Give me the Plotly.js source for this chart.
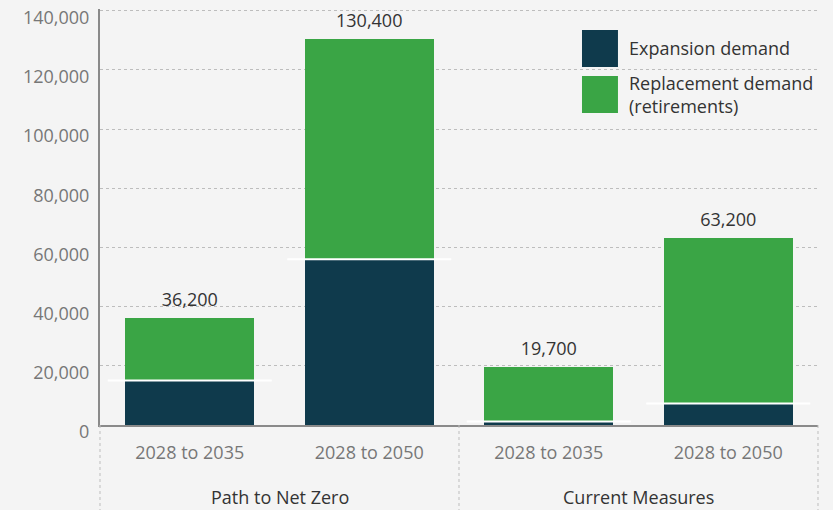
<!DOCTYPE html>
<html>
<head>
<meta charset="utf-8">
<script src="https://cdn.plot.ly/plotly-3.0.1.min.js"></script>
<style>html,body{margin:0;padding:0;background:#f4f4f4;}#chart{width:833px;height:510px;}</style>
</head>
<body>
<div id="chart"></div>
<script>
// Data
var groups = ["Path to Net Zero", "Path to Net Zero", "Current Measures", "Current Measures"];
var periods = ["2028 to 2035", "2028 to 2050", "2028 to 2035", "2028 to 2050"];
var expansion = [15000, 56000, 1200, 7300];
var replacement = [21200, 74400, 18500, 55900];
var totals = [36200, 130400, 19700, 63200];
var seriesNames = ["Expansion demand", "Replacement demand<br>(retirements)"];
var yTicks = [0, 20000, 40000, 60000, 80000, 100000, 120000, 140000];

var darkColor = "#0f3a4c";
var greenColor = "#3aa545";
var font = "Open Sans, Liberation Sans, sans-serif";
var fs = 18;

// unique category keys (group + period); ticks show the period only
var xKeys = groups.map(function(g, i){ return g + " | " + periods[i]; });
var n = xKeys.length;

// group labels centred under their categories
var groupNames = [];
groups.forEach(function(g){ if (groupNames.indexOf(g) < 0) groupNames.push(g); });
var groupAnn = groupNames.map(function(g){
  var idx = [];
  groups.forEach(function(gg, i){ if (gg === g) idx.push(i); });
  var mid = idx.reduce(function(a, b){ return a + b; }, 0) / idx.length;
  return {xref: "paper", yref: "paper", x: (mid + 0.5) / n, y: -0.172, xanchor: "center", yanchor: "middle",
          showarrow: false, text: g, font: {family: font, size: fs, color: "#333333"}};
});
var dividerShapes = [];
for (var k = 0; k <= n; k++) {
  if (k === 0 || k === n || groups[k] !== groups[k - 1]) {
    dividerShapes.push({type: "line", xref: "paper", yref: "paper", x0: k / n, x1: k / n, y0: 0, y1: -0.21,
                        line: {color: "#bdbdbd", width: 1, dash: "dot"}});
  }
}

var traces = [
  {type: "bar", x: xKeys, y: expansion, name: seriesNames[0], marker: {color: darkColor}, hoverinfo: "skip"},
  {type: "bar", x: xKeys, y: replacement, name: seriesNames[1], marker: {color: greenColor}, hoverinfo: "skip"},
  {type: "scatter", mode: "markers", x: xKeys, y: expansion, marker: {size: 1, opacity: 0},
   error_y: {type: "data", array: expansion.map(function(){return 0;}), visible: true, width: 82, thickness: 2, color: "#ffffff"},
   showlegend: false, hoverinfo: "skip", cliponaxis: false},
  {type: "scatter", mode: "markers+text", x: xKeys, y: totals, marker: {size: 10, opacity: 0},
   text: totals.map(function(v){return v.toLocaleString("en-US");}),
   textposition: "top center", textfont: {family: font, size: fs, color: "#333333"},
   showlegend: false, hoverinfo: "skip", cliponaxis: false}
];

var layout = {
  width: 833, height: 510,
  margin: {l: 100, r: 15, t: 9, b: 85},
  paper_bgcolor: "#f4f4f4", plot_bgcolor: "#f4f4f4",
  barmode: "stack", bargap: 0.28,
  showlegend: false,
  font: {family: font, size: fs, color: "#777777"},
  xaxis: {
    type: "category", categoryorder: "array", categoryarray: xKeys,
    tickmode: "array", tickvals: xKeys, ticktext: periods,
    showline: true, linecolor: "#8a8a8a", linewidth: 2,
    tickfont: {family: font, size: fs, color: "#777777"},
    ticks: "outside", ticklen: 10, tickcolor: "rgba(0,0,0,0)", showgrid: false
  },
  yaxis: {
    range: [0, 140600], tickmode: "array", tickvals: yTicks,
    ticktext: yTicks.map(function(v){return v.toLocaleString("en-US");}),
    ticklabeloverflow: "allow", ticklabelshift: 7,
    showgrid: true, gridcolor: "#bdbdbd", griddash: "dot", gridwidth: 1,
    showline: true, linecolor: "#8a8a8a", linewidth: 2,
    zeroline: false,
    ticks: "outside", ticklen: 5, tickcolor: "rgba(0,0,0,0)",
    tickfont: {family: font, size: fs, color: "#777777"}
  },
  shapes: dividerShapes.concat([
    {type: "rect", xref: "paper", yref: "paper", x0: 0.6713, x1: 0.7214, y0: 0.8606, y1: 0.9495, fillcolor: darkColor, line: {width: 0}},
    {type: "rect", xref: "paper", yref: "paper", x0: 0.6713, x1: 0.7214, y0: 0.7500, y1: 0.8389, fillcolor: greenColor, line: {width: 0}}
  ]),
  annotations: groupAnn.concat([
    {xref: "paper", yref: "paper", x: 0.734, y: 0.9063, xanchor: "left", yanchor: "middle", align: "left", showarrow: false,
     text: seriesNames[0], font: {family: font, size: fs, color: "#333333"}},
    {xref: "paper", yref: "paper", x: 0.734, y: 0.7933, xanchor: "left", yanchor: "middle", align: "left", showarrow: false,
     text: seriesNames[1], font: {family: font, size: fs, color: "#333333"}}
  ])
};

Plotly.newPlot("chart", traces, layout, {displayModeBar: false, staticPlot: true});
</script>
</body>
</html>
